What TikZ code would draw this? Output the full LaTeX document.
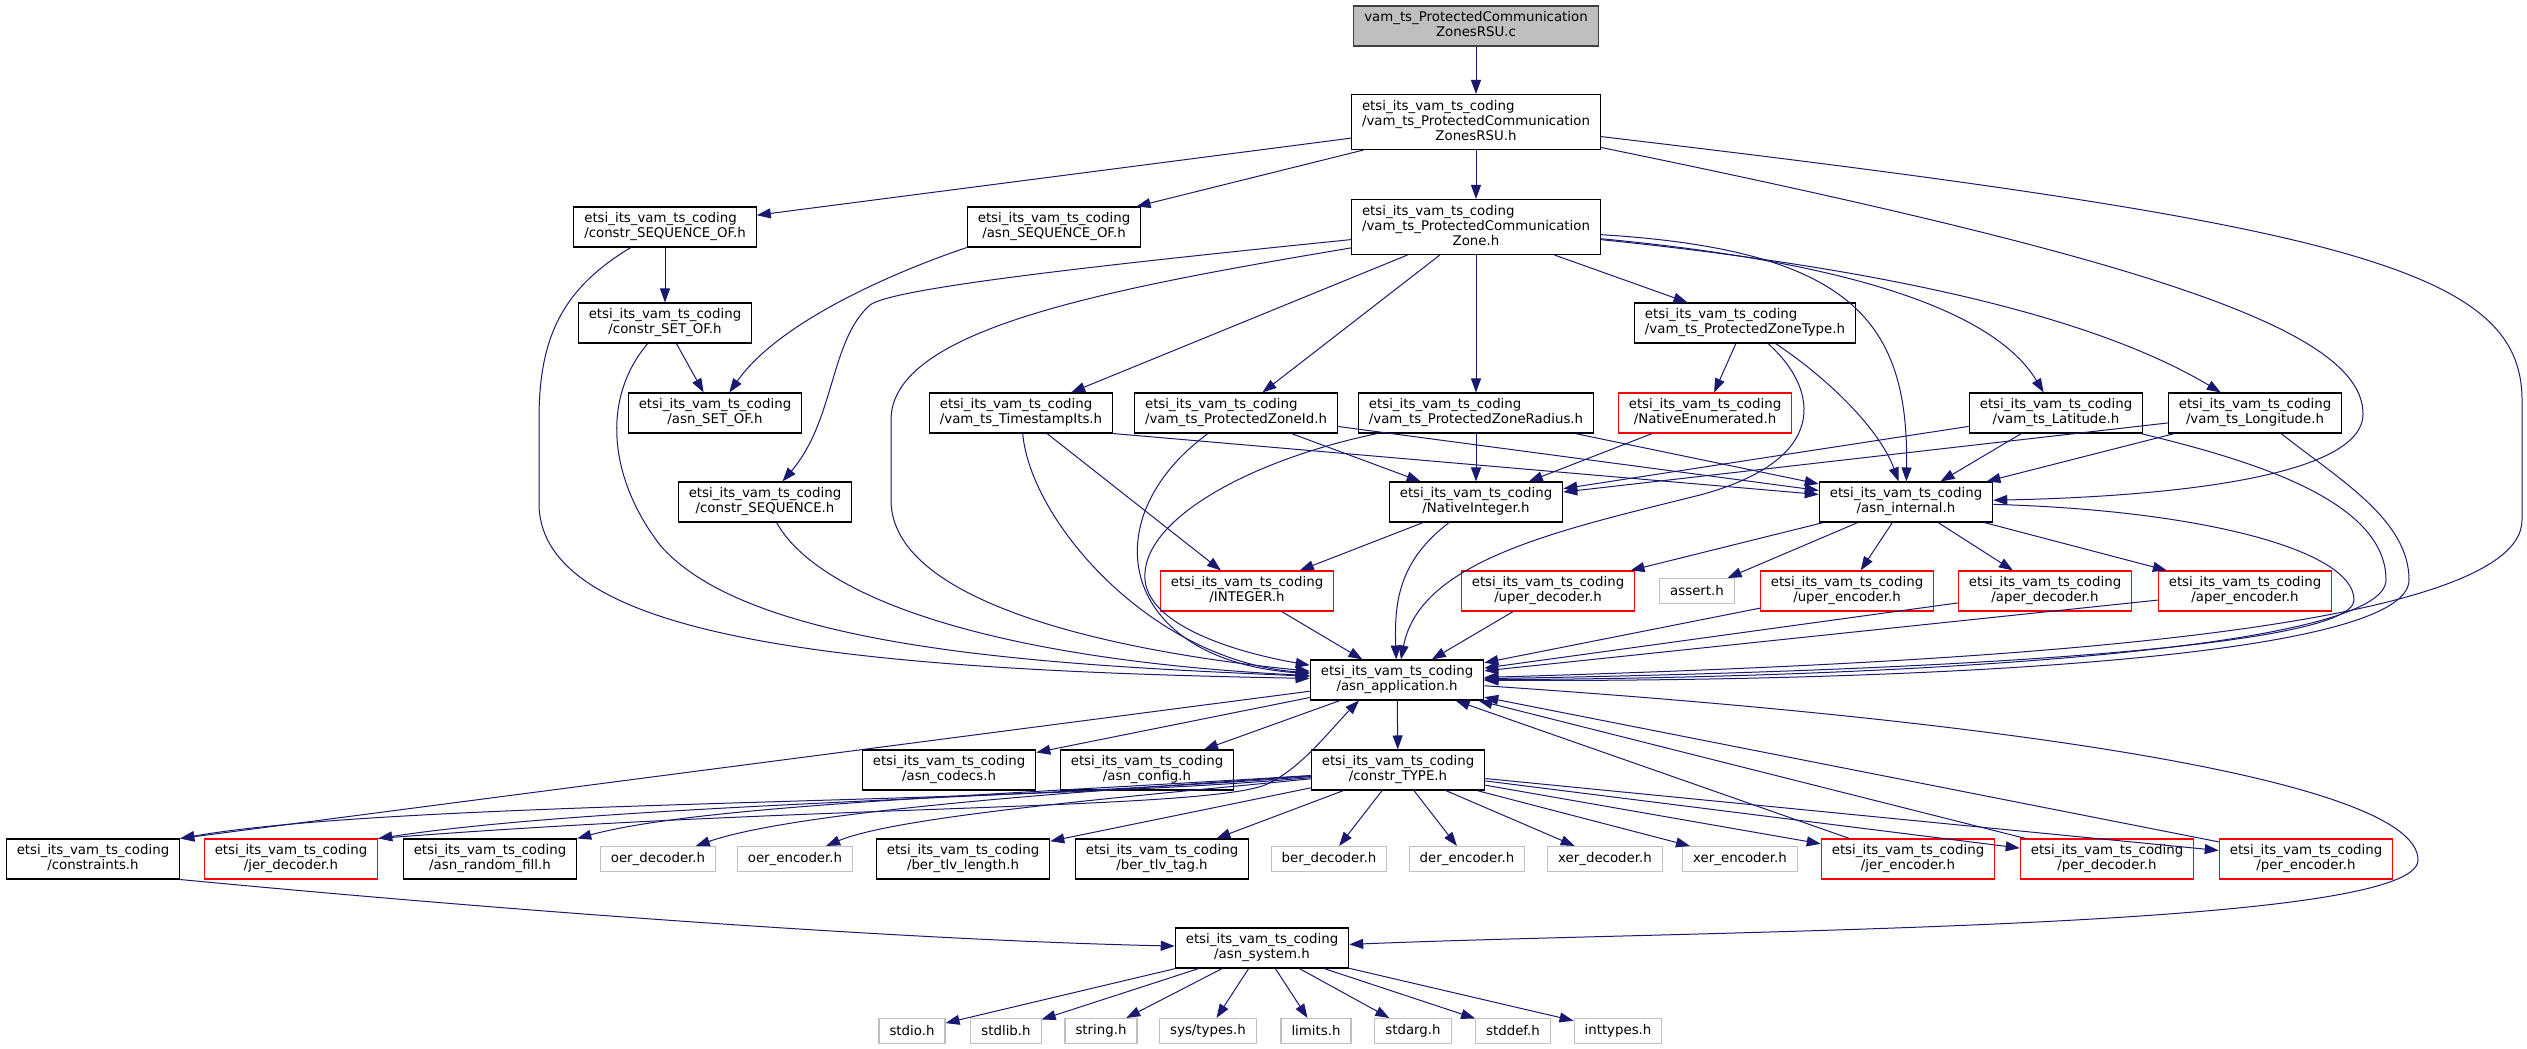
\documentclass[tikz,border=0pt]{standalone}
\usepackage{fontspec}
\setmainfont{DejaVu Sans}
\usepackage{xcolor}
\usepackage{tikz}
\usetikzlibrary{arrows.meta, calc}
\definecolor{edgeblue}{HTML}{191970}
\definecolor{grey75}{HTML}{BFBFBF}
\newcommand{\lbl}[2]{\begin{tabular}{@{}l@{}}#1\\\multicolumn{1}{@{}c@{}}{#2}\end{tabular}}
\newcommand{\lblt}[3]{\begin{tabular}{@{}l@{}}#1\\#2\\\multicolumn{1}{@{}c@{}}{#3}\end{tabular}}
\newcommand{\vam}[1]{\lbl{etsi\_its\_vam\_ts\_coding}{#1}}

\begin{document}
\begin{tikzpicture}[x=0.75pt,y=-0.75pt,
  file/.style={draw=black,fill=white,line width=0.8pt,inner xsep=7.9pt,inner ysep=3.75pt,
    font=\fontsize{10}{11.25}\selectfont},
  trunc/.style={file,draw=red},
  ext/.style={file,draw=grey75,minimum height=18.75pt},
  rootfile/.style={file,fill=grey75,draw=black!75},
  dep/.style={draw=edgeblue,line width=0.75pt,-{Triangle[length=10.5pt,width=7.5pt]}}]
\useasboundingbox (0,0) rectangle (2527,1049);

% files
\node[rootfile] (root) at (1476,26) {\lbl{vam\_ts\_ProtectedCommunication}{ZonesRSU.c}};
\node[file] (zrsu) at (1476,122) {\lblt{etsi\_its\_vam\_ts\_coding}{/vam\_ts\_ProtectedCommunication}{ZonesRSU.h}};
\node[file] (cseqof) at (665,227) {\vam{/constr\_SEQUENCE\_OF.h}};
\node[file] (aseqof) at (1054,227) {\vam{/asn\_SEQUENCE\_OF.h}};
\node[file] (zone) at (1476,227) {\lblt{etsi\_its\_vam\_ts\_coding}{/vam\_ts\_ProtectedCommunication}{Zone.h}};
\node[file] (csetof) at (665,323) {\vam{/constr\_SET\_OF.h}};
\node[file] (ztype) at (1745,323) {\vam{/vam\_ts\_ProtectedZoneType.h}};
\node[file] (asetof) at (715,413) {\vam{/asn\_SET\_OF.h}};
\node[file] (tstamp) at (1021,413) {\vam{/vam\_ts\_TimestampIts.h}};
\node[file] (zid) at (1236,413) {\vam{/vam\_ts\_ProtectedZoneId.h}};
\node[file] (zrad) at (1476,413) {\vam{/vam\_ts\_ProtectedZoneRadius.h}};
\node[trunc] (nenum) at (1705,413) {\vam{/NativeEnumerated.h}};
\node[file] (lat) at (2056,413) {\vam{/vam\_ts\_Latitude.h}};
\node[file] (lon) at (2255,413) {\vam{/vam\_ts\_Longitude.h}};
\node[file] (cseq) at (765,502) {\vam{/constr\_SEQUENCE.h}};
\node[file] (nint) at (1476,502) {\vam{/NativeInteger.h}};
\node[file] (aint) at (1906,502) {\vam{/asn\_internal.h}};
\node[trunc] (integer) at (1247,591) {\vam{/INTEGER.h}};
\node[trunc] (uperd) at (1548,591) {\vam{/uper\_decoder.h}};
\node[ext] (assert) at (1697,591) {assert.h};
\node[trunc] (upere) at (1847,591) {\vam{/uper\_encoder.h}};
\node[trunc] (aperd) at (2045,591) {\vam{/aper\_decoder.h}};
\node[trunc] (apere) at (2245,591) {\vam{/aper\_encoder.h}};
\node[file] (aapp) at (1397,680) {\vam{/asn\_application.h}};
\node[file] (codecs) at (949,770) {\vam{/asn\_codecs.h}};
\node[file] (config) at (1147,770) {\vam{/asn\_config.h}};
\node[file] (ctype) at (1398,770) {\vam{/constr\_TYPE.h}};
\node[file] (constr) at (93,859) {\vam{/constraints.h}};
\node[trunc] (jerd) at (291,859) {\vam{/jer\_decoder.h}};
\node[file] (rfill) at (490,859) {\vam{/asn\_random\_fill.h}};
\node[ext] (oerd) at (658,859) {oer\_decoder.h};
\node[ext] (oere) at (795,859) {oer\_encoder.h};
\node[file] (tlvlen) at (963,859) {\vam{/ber\_tlv\_length.h}};
\node[file] (tlvtag) at (1162,859) {\vam{/ber\_tlv\_tag.h}};
\node[ext] (berd) at (1329,859) {ber\_decoder.h};
\node[ext] (dere) at (1467,859) {der\_encoder.h};
\node[ext] (xerd) at (1605,859) {xer\_decoder.h};
\node[ext] (xere) at (1740,859) {xer\_encoder.h};
\node[trunc] (jere) at (1908,859) {\vam{/jer\_encoder.h}};
\node[trunc] (perd) at (2107,859) {\vam{/per\_decoder.h}};
\node[trunc] (pere) at (2306,859) {\vam{/per\_encoder.h}};
\node[file] (asys) at (1262,948) {\vam{/asn\_system.h}};
\node[ext] (stdio) at (912,1031) {stdio.h};
\node[ext] (stdlib) at (1006,1031) {stdlib.h};
\node[ext] (string) at (1101,1031) {string.h};
\node[ext] (systypes) at (1208,1031) {sys/types.h};
\node[ext] (limits) at (1316,1031) {limits.h};
\node[ext] (stdarg) at (1413,1031) {stdarg.h};
\node[ext] (stddef) at (1513,1031) {stddef.h};
\node[ext] (inttypes) at (1618,1031) {inttypes.h};

% top part
\draw[dep] (root) -- (zrsu);
\draw[dep] (zrsu) -- (cseqof);
\draw[dep] (zrsu) -- (aseqof);
\draw[dep] (zrsu) -- (zone);
\draw[dep] (zrsu) .. controls (2150,260) and (2363,330) .. (2363,414) .. controls (2363,480) and (2150,497) .. (aint);
\draw[dep] (zrsu) .. controls (2350,225) and (2522,270) .. (2522,400) -- (2522,520) .. controls (2522,640) and (1900,665) .. (aapp);
\draw[dep] (cseqof) -- (csetof);
\draw[dep] (cseqof) .. controls (560,290) and (539,340) .. (539,420) -- (539,503) .. controls (539,640) and (850,670) .. (aapp);
\draw[dep] (csetof) -- (asetof);
\draw[dep] (csetof) .. controls (600,400) and (610,480) .. (660,545) .. controls (750,650) and (1050,665) .. (aapp);
\draw[dep] (aseqof.south west) .. controls (900,270) and (780,320) .. (asetof);
\draw[dep] (zone) .. controls (1050,270) and (890,290) .. (870,305) .. controls (830,340) and (835,420) .. (cseq);
\draw[dep] (zone) .. controls (1100,290) and (891,330) .. (891,420) -- (891,500) .. controls (891,600) and (1100,650) .. (aapp);
\draw[dep] (zone) -- (tstamp);
\draw[dep] (zone) -- (zid);
\draw[dep] (zone) -- (zrad);
\draw[dep] (zone) -- (ztype);
\draw[dep] (zone) .. controls (1880,265) and (2000,320) .. (lat);
\draw[dep] (zone) .. controls (1900,270) and (2100,320) .. (lon);
\draw[dep] (zone) .. controls (1850,250) and (1909,320) .. (aint);
\draw[dep] (cseq) .. controls (820,600) and (1000,660) .. (aapp);

% middle part
\draw[dep] (tstamp) -- (integer);
\draw[dep] (tstamp.south east) -- (aint);
\draw[dep] (tstamp) .. controls (1030,520) and (1150,660) .. (aapp);
\draw[dep] (zid) -- (nint);
\draw[dep] (zid) -- (aint);
\draw[dep] (zid) .. controls (1090,520) and (1120,660) .. (aapp);
\draw[dep] (zrad) -- (nint);
\draw[dep] (zrad) -- (aint);
\draw[dep] (zrad) .. controls (1250,460) and (1140,520) .. (1145,580) .. controls (1150,630) and (1250,655) .. (aapp);
\draw[dep] (ztype) -- (nenum);
\draw[dep] (ztype) .. controls (1830,380) and (1880,430) .. (aint);
\draw[dep] (ztype) .. controls (1820,390) and (1830,460) .. (1700,495) .. controls (1560,530) and (1420,560) .. (aapp);
\draw[dep] (nenum) -- (nint);
\draw[dep] (lat) -- (nint);
\draw[dep] (lat) -- (aint);
\draw[dep] (lat) .. controls (2250,460) and (2386,500) .. (2386,580) .. controls (2386,650) and (1900,678) .. (aapp);
\draw[dep] (lon) -- (nint);
\draw[dep] (lon) -- (aint);
\draw[dep] (lon) .. controls (2340,480) and (2409,520) .. (2409,580) .. controls (2409,660) and (1900,682) .. (aapp);
\draw[dep] (nint) -- (integer);
\draw[dep] (nint) .. controls (1400,560) and (1394,600) .. (aapp);
\draw[dep] (integer) -- (aapp);
\draw[dep] (aint) -- (uperd);
\draw[dep] (aint) -- (assert);
\draw[dep] (aint) -- (upere);
\draw[dep] (aint) -- (aperd);
\draw[dep] (aint) -- (apere);
\draw[dep] (aint) .. controls (2200,510) and (2354,550) .. (2354,600) .. controls (2354,650) and (1900,672) .. (aapp);
\draw[dep] (uperd) -- (aapp);
\draw[dep] (upere) -- (aapp);
\draw[dep] (aperd) -- (aapp);
\draw[dep] (apere) -- (aapp);

% bottom part
\draw[dep] (aapp) -- (codecs);
\draw[dep] (aapp) -- (config);
\draw[dep] (aapp) -- (ctype);
\draw[dep] (aapp) -- (constr.north east);
\draw[dep] (aapp) .. controls (2000,720) and (2418,780) .. (2418,860) .. controls (2418,930) and (1700,930) .. (asys);
\draw[dep] (ctype) .. controls (1000,805) and (400,800) .. (constr.north east);
\draw[dep] (ctype) .. controls (1000,800) and (600,805) .. (jerd.north east);
\draw[dep] (jerd.north east) .. controls (800,805) and (1200,810) .. (1265,785) .. controls (1300,770) and (1330,730) .. ($(aapp.south)+(-38,0)$);
\draw[dep] (ctype) .. controls (1000,795) and (700,805) .. (rfill.north east);
\draw[dep] (ctype) .. controls (1100,790) and (800,810) .. (oerd);
\draw[dep] (ctype) .. controls (1150,795) and (900,815) .. (oere);
\draw[dep] (ctype) -- (tlvlen);
\draw[dep] (ctype) -- (tlvtag);
\draw[dep] (ctype) -- (berd);
\draw[dep] (ctype) -- (dere);
\draw[dep] (ctype) -- (xerd);
\draw[dep] (ctype) -- (xere);
\draw[dep] (ctype) -- (jere);
\draw[dep] (ctype) -- (perd);
\draw[dep] (ctype) -- (pere);
\draw[dep] (jere) -- (aapp);
\draw[dep] (perd) -- (aapp);
\draw[dep] (pere) -- (aapp);
\draw[dep] (constr.south east) .. controls (500,910) and (900,940) .. (asys);
\draw[dep] (asys) -- (stdio);
\draw[dep] (asys) -- (stdlib);
\draw[dep] (asys) -- (string);
\draw[dep] (asys) -- (systypes);
\draw[dep] (asys) -- (limits);
\draw[dep] (asys) -- (stdarg);
\draw[dep] (asys) -- (stddef);
\draw[dep] (asys) -- (inttypes);
\end{tikzpicture}
\end{document}
